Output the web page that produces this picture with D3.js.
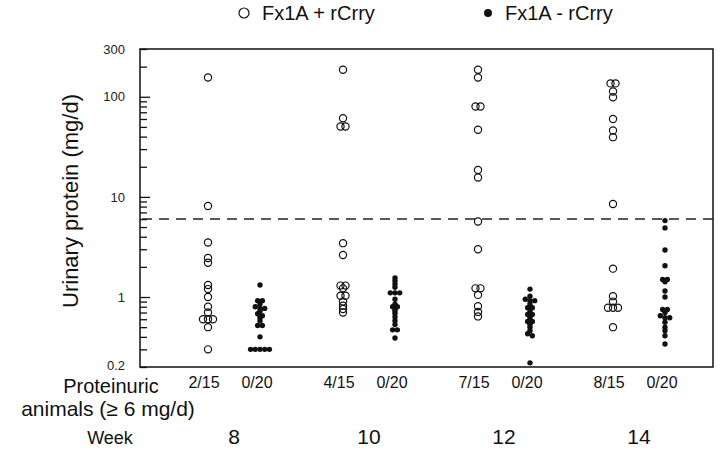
<!DOCTYPE html>
<html>
<head>
<meta charset="utf-8">
<script src="https://cdn.jsdelivr.net/npm/d3@7"></script>
<style>
  html, body { margin: 0; padding: 0; background: #fff; }
  svg { display: block; font-family: "Liberation Sans", Arial, Helvetica, sans-serif; }
</style>
</head>
<body>
<svg id="chart" width="720" height="449"></svg>
<script>
// ---- data ----
const weeks = ["8", "10", "12", "14"];
const seriesNames = ["Fx1A + rCrry", "Fx1A - rCrry"];
const withRcrry = [
  [156, 8.1, 3.5, 2.45, 2.2, 1.32, 1.2, 1.0, 0.8, 0.7, 0.6, 0.6, 0.6, 0.5, 0.3],
  [186, 61, 50.5, 50.5, 3.45, 2.63, 1.3, 1.3, 1.22, 1.03, 1.03, 0.9, 0.82, 0.76, 0.7],
  [186, 156, 80, 80, 46.8, 18.6, 15.6, 5.67, 3.0, 1.22, 1.22, 1.05, 0.81, 0.71, 0.64],
  [136, 136, 113, 99, 60, 46, 39.5, 8.5, 1.92, 1.02, 0.9, 0.78, 0.78, 0.78, 0.5]
];
const withoutRcrry = [
  [1.32, 0.92, 0.92, 0.85, 0.8, 0.77, 0.77, 0.72, 0.68, 0.65, 0.62, 0.58, 0.52, 0.52, 0.4, 0.3, 0.3, 0.3, 0.3, 0.3],
  [1.55, 1.45, 1.35, 1.25, 1.1, 1.1, 1.1, 0.95, 0.85, 0.8, 0.8, 0.76, 0.72, 0.68, 0.63, 0.58, 0.53, 0.47, 0.47, 0.39],
  [1.2, 1.02, 0.95, 0.92, 0.92, 0.85, 0.78, 0.78, 0.72, 0.67, 0.67, 0.62, 0.57, 0.57, 0.53, 0.5, 0.46, 0.43, 0.41, 0.22],
  [5.8, 4.9, 2.95, 2.05, 1.5, 1.5, 1.42, 1.15, 1.0, 0.75, 0.75, 0.7, 0.65, 0.62, 0.62, 0.56, 0.5, 0.46, 0.41, 0.34]
];
const fracWith = ["2/15", "4/15", "7/15", "8/15"];
const fracWithout = ["0/20", "0/20", "0/20", "0/20"];
const yLabeledTicks = [0.2, 1, 10, 100, 300];
const proteinuriaThreshold = 6;

// ---- layout ----
const svg = d3.select("#chart");
const M = { left: 140, right: 713, top: 49, bottom: 367 };

const y = d3.scaleLog().domain([0.2, 300]).range([M.bottom, M.top]);
const x = d3.scalePoint().domain(weeks).range([234, 639]);
const groupOffset = 26;

// minor + major ticks
const allTicks = [];
[0.1, 1, 10, 100].forEach(dec => {
  for (let k = 1; k <= 9; k++) {
    const v = +(dec * k).toPrecision(3);
    if (v >= 0.2 && v <= 300) allTicks.push(v);
  }
});

const g = svg.append("g");

// frame
g.append("rect")
  .attr("x", M.left).attr("y", M.top)
  .attr("width", M.right - M.left).attr("height", M.bottom - M.top)
  .attr("fill", "none").attr("stroke", "#111").attr("stroke-width", 1.5);

// y axis ticks (inward)
const yAxisMinor = d3.axisRight(y).tickValues(allTicks).tickSize(7).tickFormat("");
const axMinor = g.append("g").attr("transform", `translate(${M.left},0)`).call(yAxisMinor);
axMinor.select(".domain").remove();
axMinor.selectAll(".tick line").attr("stroke", "#111").attr("stroke-width", 1.3)
  .attr("x2", d => ([1, 10, 100].includes(d) ? 10 : 7));

// y tick labels
const yAxisLabels = d3.axisLeft(y).tickValues(yLabeledTicks).tickSize(0).tickPadding(15)
  .tickFormat(d => String(d));
const axLab = g.append("g").attr("transform", `translate(${M.left},0)`).call(yAxisLabels);
axLab.select(".domain").remove();
axLab.selectAll("text").attr("font-size", 13).attr("fill", "#222")
  .attr("font-family", "'Liberation Sans', Arial, sans-serif");
axLab.selectAll(".tick").filter(d => d === 0.2).select("text").attr("dy", "0.2em");

// threshold dashed line
g.append("line")
  .attr("x1", M.left + 2).attr("x2", M.right)
  .attr("y1", y(proteinuriaThreshold)).attr("y2", y(proteinuriaThreshold))
  .attr("stroke", "#222").attr("stroke-width", 1.5).attr("stroke-dasharray", "10,7");

// swarm layout: values with near-equal pixel positions are spread side by side
function swarm(values, cx, spacing) {
  const sorted = values.slice().sort((a, b) => b - a);
  const clusters = [];
  sorted.forEach(v => {
    const last = clusters[clusters.length - 1];
    if (last && Math.abs(y(last[0]) - y(v)) < 2.2) last.push(v);
    else clusters.push([v]);
  });
  const pts = [];
  clusters.forEach(c => {
    c.forEach((v, i) => pts.push({ v, x: cx + (i - (c.length - 1) / 2) * spacing, y: y(v) }));
  });
  return pts;
}

weeks.forEach((w, i) => {
  const cx = x(w);
  const open = swarm(withRcrry[i], cx - groupOffset, 5);
  const filled = swarm(withoutRcrry[i], cx + groupOffset, 4.7);
  g.append("g").selectAll("circle").data(open).join("circle")
    .attr("cx", d => d.x).attr("cy", d => d.y).attr("r", 3.6)
    .attr("fill", "none").attr("stroke", "#111").attr("stroke-width", 1.2);
  g.append("g").selectAll("circle").data(filled).join("circle")
    .attr("cx", d => d.x).attr("cy", d => d.y).attr("r", 2.7)
    .attr("fill", "#111");

  // fractions
  g.append("text").attr("x", cx - groupOffset - 4).attr("y", 388)
    .attr("text-anchor", "middle").attr("font-size", 16).attr("fill", "#111")
    .text(fracWith[i]);
  g.append("text").attr("x", cx + groupOffset - 3).attr("y", 388)
    .attr("text-anchor", "middle").attr("font-size", 16).attr("fill", "#111")
    .text(fracWithout[i]);
  // week number
  g.append("text").attr("x", cx).attr("y", 444)
    .attr("text-anchor", "middle").attr("font-size", 21).attr("fill", "#111")
    .text(w);
});

// y axis title
g.append("text")
  .attr("transform", `translate(78,201) rotate(-90)`)
  .attr("text-anchor", "middle").attr("font-size", 22).attr("fill", "#111")
  .text("Urinary protein (mg/d)");

// row labels
g.append("text").attr("x", 111).attr("y", 393).attr("text-anchor", "middle")
  .attr("font-size", 20).attr("fill", "#111").text("Proteinuric");
g.append("text").attr("x", 108).attr("y", 416).attr("text-anchor", "middle")
  .attr("font-size", 21).attr("fill", "#111")
  .text("animals (\u2265 6 mg/d)");
g.append("text").attr("x", 110).attr("y", 444).attr("text-anchor", "middle")
  .attr("font-size", 18).attr("fill", "#111").text("Week");

// legend
const leg = g.append("g");
leg.append("circle").attr("cx", 244).attr("cy", 13).attr("r", 5)
  .attr("fill", "none").attr("stroke", "#111").attr("stroke-width", 1.2);
leg.append("text").attr("x", 262).attr("y", 20).attr("font-size", 20).attr("fill", "#111")
  .text(seriesNames[0]);
leg.append("circle").attr("cx", 488).attr("cy", 13).attr("r", 4).attr("fill", "#111");
leg.append("text").attr("x", 505).attr("y", 20).attr("font-size", 20).attr("fill", "#111")
  .text(seriesNames[1]);
</script>
</body>
</html>
